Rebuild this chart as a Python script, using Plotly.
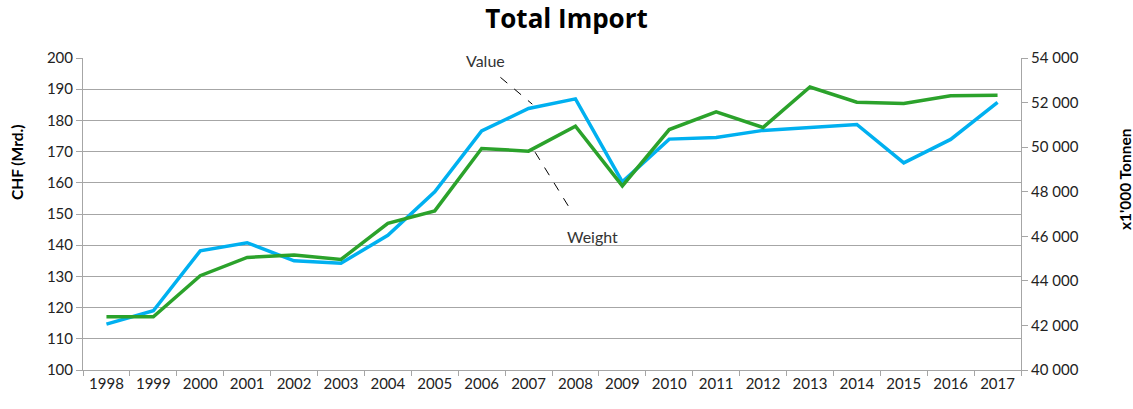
import plotly.graph_objects as go

# Daten
years = [str(y) for y in range(1998, 2018)]
value_chf = [114.7, 119.0, 138.2, 140.8, 135.0, 134.2, 143.2, 157.1, 176.6, 183.8,
             186.9, 160.3, 174.0, 174.5, 176.8, 177.7, 178.7, 166.4, 173.9, 185.8]
weight_t = [42390, 42390, 44230, 45050, 45160, 44960, 46580, 47140, 49940, 49820,
            50940, 48260, 50790, 51580, 50880, 52700, 52015, 51960, 52310, 52330]

left_ticks = list(range(100, 201, 10))
right_ticks = list(range(40000, 54001, 2000))

font_fam = "Lato, Open Sans, Liberation Sans, sans-serif"
grey = "#a6a6a6"

fig = go.Figure()

fig.add_trace(go.Scatter(x=years, y=value_chf, mode="lines", name="Value",
                         line=dict(color="#00b0f0", width=3.5)))
fig.add_trace(go.Scatter(x=years, y=weight_t, mode="lines", name="Weight",
                         line=dict(color="#2ba22b", width=3.5), yaxis="y2"))

# Beschriftungen mit gestrichelten Hinweislinien
fig.add_annotation(x=8.08, y=199.3, text="Value", showarrow=False,
                   font=dict(size=16, color="#333333", family=font_fam))
fig.add_annotation(x=10.36, y=142.9, text="Weight", showarrow=False,
                   font=dict(size=16, color="#333333", family=font_fam))
fig.add_shape(type="line", xref="x", yref="y", x0=8.40, y0=193.8, x1=9.08, y1=185.2,
              line=dict(color="black", width=1, dash="dash"))
fig.add_shape(type="line", xref="x", yref="y", x0=9.14, y0=169.8, x1=9.94, y1=150.3,
              line=dict(color="black", width=1, dash="dash"))

# Achsentitel (wie im Original nicht mittig)
fig.add_annotation(xref="paper", yref="paper", x=-0.0709, y=0.665, text="<b>CHF (Mrd.)</b>",
                   textangle=-90, showarrow=False, xanchor="center", yanchor="middle",
                   font=dict(size=15.5, color="black", family=font_fam))
fig.add_annotation(xref="paper", yref="paper", x=1.1109, y=0.609, text="<b>x1'000 Tonnen</b>",
                   textangle=-90, showarrow=False, xanchor="center", yanchor="middle",
                   font=dict(size=15.5, color="black", family=font_fam))

fig.update_layout(
    width=1133, height=409,
    margin=dict(l=83, r=112, t=58, b=39),
    paper_bgcolor="white", plot_bgcolor="white",
    separators=". ",
    showlegend=False,
    font=dict(family=font_fam, size=15, color="#222222"),
    title=dict(text="<b>Total Import</b>", x=0.5, xanchor="center", y=0.955, yanchor="middle",
               font=dict(size=26, color="black", family="Open Sans, sans-serif")),
    xaxis=dict(type="category", range=[-0.5, 19.5], showgrid=False, showline=True, linecolor=grey,
               ticks="outside", tickson="boundaries", ticklen=5, tickcolor=grey,
               tickfont=dict(size=15)),
    yaxis=dict(range=[100, 200], tickvals=left_ticks, showgrid=True, gridcolor=grey,
               gridwidth=1, showline=True, linecolor=grey, ticks="outside", ticklen=6,
               tickcolor=grey, zeroline=False, tickfont=dict(size=15)),
    yaxis2=dict(range=[40000, 54000], tickvals=right_ticks, tickformat=",d",
                overlaying="y", side="right", showgrid=False, showline=True,
                linecolor=grey, ticks="outside", ticklen=6, tickcolor=grey, zeroline=False,
                tickfont=dict(size=15)),
)

# Seitenrand entfernen, damit die Grafik bei (0, 0) beginnt
fig.write_html("out.html", config={"displayModeBar": False},
               post_script="document.body.style.margin='0';")
